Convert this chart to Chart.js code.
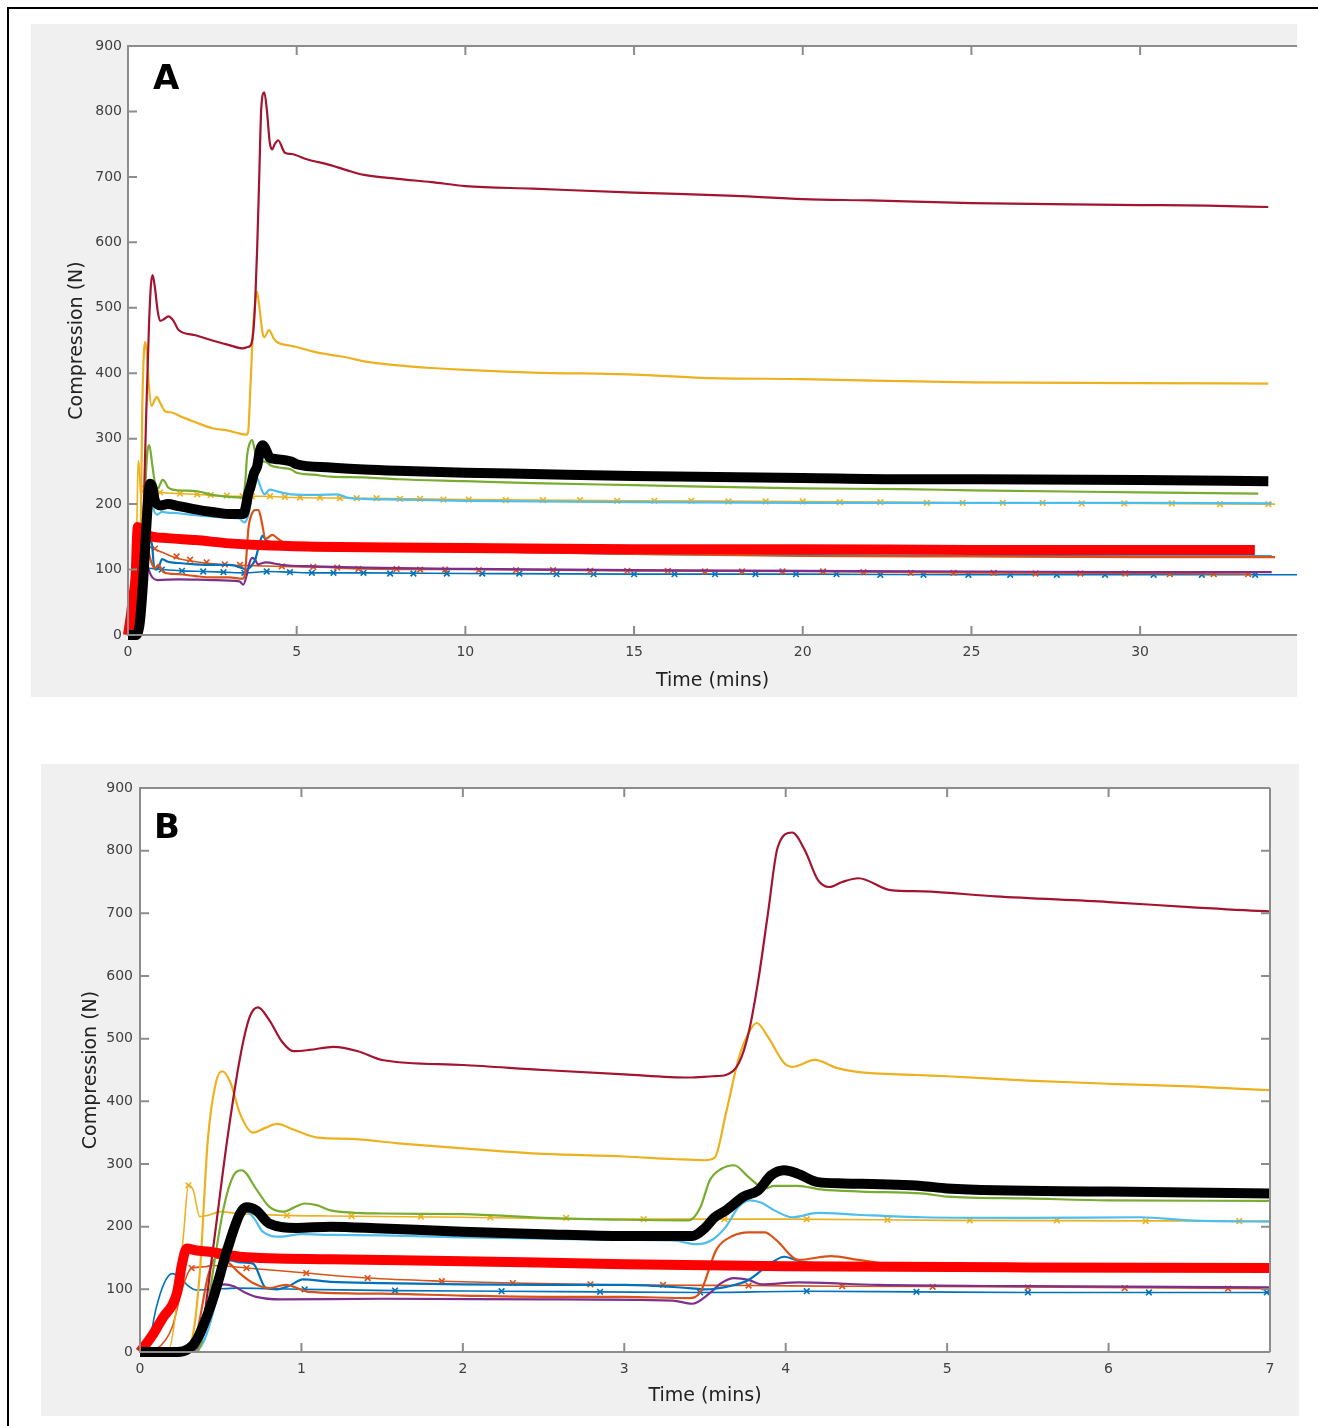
<!DOCTYPE html>
<html>
<head>
<meta charset="utf-8">
<script src="https://cdn.jsdelivr.net/npm/chart.js@4.4.1/dist/chart.umd.min.js"></script>
<style>
    body { margin: 0; background: #ffffff; width: 1318px; height: 1426px; position: relative; overflow: hidden; }
    #frame-top { position: absolute; left: 7px; top: 7px; width: 1311px; height: 2px; background: #000; }
    #frame-left { position: absolute; left: 7px; top: 7px; width: 2px; height: 1419px; background: #000; }
    canvas { position: absolute; background: #f0f0f0; }
    #chart-a { left: 31px; top: 24px; }
    #chart-b { left: 41px; top: 764px; }
</style>
</head>
<body>
<div id="frame-top"></div>
<div id="frame-left"></div>
<canvas id="chart-a" width="1266" height="673"></canvas>
<canvas id="chart-b" width="1258" height="652"></canvas>
<script>
// Compression (N) against time (mins), one array pair per sample
const darkRedTime = [0, 0.3, 0.38, 0.45, 0.54, 0.62, 0.68, 0.73, 0.8, 0.88, 0.95, 1.05, 1.2, 1.35, 1.5, 2.0, 2.5, 3.0, 3.4, 3.55, 3.63, 3.71, 3.77, 3.83, 3.89, 3.95, 4.04, 4.12, 4.2, 4.27, 4.35, 4.45, 4.65, 4.85, 5.3, 6.0, 6.5, 7.0, 8, 9, 10, 12, 15, 18, 20, 22, 25, 28, 30, 32, 33.8];
const darkRedForce = [0, 0, 30, 160, 338, 470, 535, 550, 530, 495, 480, 482, 487, 480, 466, 458, 450, 443, 438, 440, 442, 461, 509, 593, 700, 805, 829, 800, 753, 742, 750, 756, 737, 735, 727, 718, 710, 703, 697, 692, 686, 682, 676, 671, 666, 664, 660, 658, 657, 656, 654];

const orangeTime = [0, 0.2, 0.26, 0.32, 0.37, 0.42, 0.47, 0.51, 0.56, 0.62, 0.7, 0.78, 0.85, 0.95, 1.1, 1.3, 1.6, 2.0, 2.5, 3.0, 3.3, 3.5, 3.56, 3.63, 3.71, 3.77, 3.82, 3.89, 3.99, 4.04, 4.18, 4.32, 4.44, 4.81, 5.0, 5.5, 6.0, 6.5, 7.0, 8, 9, 10, 12, 15, 17, 20, 25, 30, 33.8];
const orangeForce = [0, 0, 3, 19, 125, 338, 430, 448, 430, 380, 350, 358, 364, 355, 342, 340, 333, 325, 316, 312, 308, 306, 310, 381, 470, 509, 525, 503, 461, 455, 466, 453, 447, 442, 440, 433, 428, 424, 418, 412, 408, 405, 401, 398, 393, 391, 386, 385, 384];

const greenTime = [0, 0.35, 0.41, 0.45, 0.52, 0.58, 0.63, 0.72, 0.8, 0.89, 0.95, 1.02, 1.1, 1.18, 1.5, 2.0, 2.5, 3.0, 3.4, 3.47, 3.53, 3.6, 3.68, 3.77, 3.87, 3.93, 4.07, 4.23, 4.47, 4.84, 5.0, 5.5, 6.0, 7.0, 8, 10, 12, 15, 20, 23, 25, 30, 33.5];
const greenForce = [0, 0, 50, 125, 232, 282, 290, 260, 232, 224, 230, 237, 234, 226, 221, 220, 214, 211, 210, 230, 274, 292, 298, 279, 261, 265, 265, 259, 256, 253, 248, 245, 242, 241, 238, 235, 232, 229, 224, 223, 221, 218, 216];

const cyanTime = [0, 0.33, 0.4, 0.48, 0.56, 0.62, 0.66, 0.71, 0.76, 0.87, 1.0, 1.18, 1.5, 2.0, 2.5, 3.0, 3.3, 3.45, 3.55, 3.63, 3.71, 3.78, 3.85, 3.93, 4.04, 4.2, 4.44, 4.84, 5.5, 6.2, 6.5, 7.0, 8, 10, 15, 20, 25, 30, 33.9];
const cyanForce = [0, 0, 20, 90, 180, 218, 224, 212, 192, 184, 188, 187, 186, 183, 181, 179, 178, 172, 180, 200, 232, 242, 238, 226, 215, 222, 219, 215, 214, 215, 210, 208, 207, 205, 203, 202, 202, 202, 201];

const yellowXTime = [0, 0.18, 0.22, 0.27, 0.3, 0.33, 0.37, 0.42, 0.5, 0.6, 0.91, 1.18, 2.0, 3.0, 4.0, 5.0, 7.0, 10, 15, 20, 25, 30, 34.0];
const yellowXForce = [0, 5, 60, 189, 266, 258, 216, 218, 224, 221, 218, 217, 215, 212, 212, 210, 209, 207, 205, 204, 202, 201, 200];

const blackTime = [0, 0.23, 0.3, 0.35, 0.45, 0.54, 0.62, 0.66, 0.72, 0.8, 0.97, 1.18, 1.5, 2.0, 2.5, 3.0, 3.42, 3.5, 3.56, 3.63, 3.74, 3.83, 3.91, 3.99, 4.07, 4.2, 4.36, 4.84, 5.0, 6.0, 7.0, 8, 10, 12, 15, 20, 23, 25, 30, 33.8];
const blackForce = [0, 0, 5, 19, 83, 163, 221, 231, 226, 205, 198, 200, 197, 192, 188, 185, 185, 198, 215, 226, 248, 258, 282, 290, 285, 271, 269, 265, 261, 256, 253, 251, 248, 246, 243, 240, 238, 238, 237, 235];

const redTime = [0, 0.08, 0.145, 0.2, 0.23, 0.26, 0.29, 0.35, 0.43, 0.62, 1.18, 2.0, 3.0, 4.0, 5.5, 7.0, 10, 15, 20, 25, 30, 33.4];
const redForce = [0, 28, 56, 75, 95, 140, 165, 162, 160, 152, 148, 145, 140, 137, 135, 134, 133, 131, 131, 130, 130, 130];

const orangeRedTime = [0, 0.3, 0.36, 0.42, 0.47, 0.55, 0.62, 0.7, 0.8, 0.9, 1.05, 1.5, 2.0, 2.5, 3.0, 3.4, 3.47, 3.57, 3.67, 3.77, 3.87, 3.94, 4.08, 4.28, 4.45, 4.68, 5.0, 6.0, 7.0, 10, 15, 20, 25, 30, 34.0];
const orangeRedForce = [0, 0, 40, 120, 150, 142, 125, 110, 102, 107, 96, 93, 90, 88, 88, 86, 95, 163, 185, 191, 191, 179, 147, 153, 147, 139, 137, 134, 132, 128, 124, 121, 120, 119, 119];

const blueTime = [0, 0.29, 0.4, 0.48, 0.56, 0.62, 0.7, 0.78, 0.85, 0.92, 1.01, 1.18, 1.5, 2.0, 2.5, 3.0, 3.4, 3.5, 3.65, 3.77, 3.91, 3.99, 4.1, 4.4, 5.0, 6.0, 7.0, 10, 15, 20, 25, 30, 33.9];
const blueForce = [0, 0, 30, 100, 146, 143, 141, 102, 100, 105, 116, 112, 110, 108, 107, 107, 102, 100, 105, 115, 142, 152, 144, 141, 138, 134, 132, 128, 124, 122, 121, 120, 120];

const purpleTime = [0, 0.33, 0.41, 0.47, 0.52, 0.58, 0.65, 0.72, 0.87, 1.5, 2.5, 3.3, 3.42, 3.53, 3.6, 3.68, 3.77, 3.85, 4.08, 4.57, 5.5, 7.0, 10, 15, 20, 25, 30, 33.9];
const purpleForce = [0, 0, 40, 95, 108, 105, 95, 88, 84, 85, 84, 82, 77, 94, 110, 118, 115, 108, 111, 107, 105, 103, 101, 99, 98, 97, 96, 96];

const orangeXTime = [0, 0.1, 0.2, 0.26, 0.32, 0.4, 0.45, 0.66, 1.03, 1.41, 1.87, 2.31, 3.0, 3.77, 4.35, 5.5, 7.0, 10, 15, 20, 25, 30, 33.3];
const orangeXForce = [0, 5, 40, 100, 134, 136, 138, 134, 126, 118, 113, 110, 107, 106, 105, 104, 101, 100, 98, 97, 95, 94, 93];

const blueXTime = [0, 0.05, 0.1, 0.15, 0.2, 0.25, 0.3, 0.35, 0.45, 0.6, 1.02, 1.58, 2.24, 2.85, 3.47, 4.13, 4.81, 5.5, 7.0, 10, 15, 20, 25, 30, 34.8];
const blueXForce = [0, 10, 70, 110, 125, 118, 105, 99, 100, 102, 100, 98, 97, 96, 95, 97, 96, 95, 95, 94, 93, 93, 92, 92, 92];

// 'x' marker positions, panel A (full run)
const yellowMarkTimeA = [0.5, 0.95, 1.54, 2.05, 2.45, 2.93, 3.4, 3.67, 4.21, 4.65, 5.1, 5.69, 6.28, 6.78, 7.37, 8.06, 8.66, 9.35, 10.1, 11.2, 12.3, 13.4, 14.5, 15.6, 16.7, 17.8, 18.9, 20.0, 21.1, 22.3, 23.68, 24.74, 25.93, 27.11, 28.27, 29.53, 30.94, 32.37, 33.8];
const yellowMarkForceA = [224, 218, 216, 215, 214, 213, 212, 212, 212, 211, 210, 210, 209, 209, 209, 208, 208, 207, 207, 206, 206, 206, 205, 205, 205, 204, 204, 204, 203, 203, 202, 202, 202, 202, 201, 201, 201, 200, 200];
const orangeMarkTimeA = [0.8, 1.44, 1.84, 2.33, 2.87, 3.32, 4.56, 5.49, 6.2, 6.83, 7.96, 8.66, 9.4, 10.4, 11.5, 12.6, 13.7, 14.8, 16.0, 17.1, 18.2, 19.4, 20.6, 21.8, 23.2, 24.47, 25.66, 26.9, 28.23, 29.56, 30.88, 32.18, 33.2];
const orangeMarkForceA = [132, 120, 115, 111, 108, 107, 105, 104, 103, 101, 101, 100, 100, 99, 99, 99, 98, 98, 98, 97, 97, 97, 97, 96, 95, 95, 95, 94, 94, 94, 93, 93, 93];
const blueMarkTimeA = [1.0, 1.6, 2.23, 2.83, 3.45, 4.11, 4.8, 5.45, 6.09, 6.98, 7.77, 8.46, 9.45, 10.5, 11.6, 12.7, 13.8, 15.0, 16.2, 17.4, 18.6, 19.8, 21.0, 22.3, 23.58, 24.91, 26.15, 27.53, 28.96, 30.4, 31.83, 33.41];
const blueMarkForceA = [100, 98, 97, 96, 95, 97, 96, 95, 95, 95, 94, 94, 94, 94, 94, 93, 93, 93, 93, 93, 93, 93, 93, 92, 92, 92, 92, 92, 92, 92, 92, 92];

// 'x' marker positions, panel B (first 7 minutes)
const yellowMarkTimeB = [0.30, 0.91, 1.31, 1.74, 2.17, 2.64, 3.12, 3.62, 4.13, 4.63, 5.14, 5.68, 6.23, 6.81];
const yellowMarkForceB = [266, 218, 217, 216, 215, 214, 212, 212, 212, 211, 210, 210, 209, 209];
const orangeMarkTimeB = [0.32, 0.66, 1.03, 1.41, 1.87, 2.31, 2.79, 3.24, 3.77, 4.35, 4.91, 5.5, 6.1, 6.74];
const orangeMarkForceB = [134, 134, 126, 118, 113, 110, 108, 107, 106, 105, 104, 103, 102, 101];
const blueMarkTimeB = [1.02, 1.58, 2.24, 2.85, 3.47, 4.13, 4.81, 5.5, 6.25, 6.98];
const blueMarkForceB = [100, 98, 97, 96, 95, 97, 96, 95, 95, 95];

const xTicksA = [0, 5, 10, 15, 20, 25, 30];
const xTicksB = [0, 1, 2, 3, 4, 5, 6, 7];
const yTicks = [0, 100, 200, 300, 400, 500, 600, 700, 800, 900];

const FONT = "'DejaVu Sans', sans-serif";
const AXIS_GREY = '#8c8c8c';

function points(time, force) {
    return time.map((x, i) => ({ x, y: force[i] }));
}

// MATLAB-like box: white plot area, grey frame, inward ticks, panel letter
const matlabAxes = {
    id: 'matlabAxes',
    beforeDatasetsDraw(chart) {
        const { ctx, chartArea: a } = chart;
        ctx.save();
        ctx.fillStyle = '#ffffff';
        ctx.fillRect(a.left, a.top, a.right - a.left, a.bottom - a.top);
        ctx.restore();
    },
    afterDatasetsDraw(chart, args, opts) {
        const { ctx, chartArea: a, scales: { x, y } } = chart;
        const len = 9;
        ctx.save();
        ctx.strokeStyle = AXIS_GREY;
        ctx.lineWidth = 2;
        ctx.beginPath();
        ctx.moveTo(a.right, a.top);
        ctx.lineTo(a.left, a.top);
        ctx.lineTo(a.left, a.bottom);
        ctx.lineTo(a.right, a.bottom);
        if (opts.rightEdge) {
            ctx.moveTo(a.right, a.top);
            ctx.lineTo(a.right, a.bottom);
        }
        for (const t of x.ticks) {
            const px = x.getPixelForValue(t.value);
            ctx.moveTo(px, a.bottom);
            ctx.lineTo(px, a.bottom - len);
            ctx.moveTo(px, a.top);
            ctx.lineTo(px, a.top + len);
        }
        for (const t of y.ticks) {
            const py = y.getPixelForValue(t.value);
            ctx.moveTo(a.left, py);
            ctx.lineTo(a.left + len, py);
            if (opts.rightEdge) {
                ctx.moveTo(a.right, py);
                ctx.lineTo(a.right - len, py);
            }
        }
        ctx.stroke();

        ctx.fillStyle = '#000000';
        ctx.font = 'bold 34px ' + FONT;
        ctx.textBaseline = 'alphabetic';
        ctx.fillText(opts.letter, a.left + opts.letterX, a.top + opts.letterY);
        ctx.restore();
    }
};

function lineSet(time, force, color, width, order) {
    return {
        data: points(time, force),
        borderColor: color,
        borderWidth: width,
        pointRadius: 0,
        cubicInterpolationMode: 'monotone',
        fill: false,
        order: order,
        clip: { left: 6, top: 0, right: 0, bottom: 6 }
    };
}

function markerSet(time, force, color, order) {
    return {
        data: points(time, force),
        showLine: false,
        pointStyle: 'crossRot',
        pointRadius: 4,
        pointBorderWidth: 1.6,
        borderColor: color,
        pointBorderColor: color,
        order: order,
        clip: { left: 6, top: 0, right: 0, bottom: 6 }
    };
}

function buildPanel(canvasId, panel) {
    const datasets = [
        lineSet(blackTime, blackForce, '#000000', panel.thick, 0),
        lineSet(redTime, redForce, '#ff0000', panel.thick, 1),
        lineSet(darkRedTime, darkRedForce, '#a2142f', 2.2, 2),
        lineSet(orangeTime, orangeForce, '#edb120', 2.2, 3),
        lineSet(greenTime, greenForce, '#77ac30', 2.2, 4),
        lineSet(cyanTime, cyanForce, '#4dbeee', 2.2, 5),
        lineSet(orangeRedTime, orangeRedForce, '#d95319', 2.2, 6),
        lineSet(blueTime, blueForce, '#0072bd', 2.2, 7),
        lineSet(purpleTime, purpleForce, '#7e2f8e', 2.2, 8),
        lineSet(yellowXTime, yellowXForce, '#edb120', 1.6, 9),
        lineSet(orangeXTime, orangeXForce, '#d95319', 1.6, 10),
        lineSet(blueXTime, blueXForce, '#0072bd', 1.6, 11),
        markerSet(panel.yellowMarks[0], panel.yellowMarks[1], '#edb120', 9),
        markerSet(panel.orangeMarks[0], panel.orangeMarks[1], '#d95319', 10),
        markerSet(panel.blueMarks[0], panel.blueMarks[1], '#0072bd', 11)
    ];

    return new Chart(document.getElementById(canvasId), {
        type: 'line',
        data: { datasets },
        plugins: [matlabAxes],
        options: {
            responsive: false,
            animation: false,
            devicePixelRatio: 1,
            events: [],
            layout: {
                autoPadding: false,
                padding: { top: panel.padTop, right: panel.padRight, left: 0, bottom: 0 }
            },
            plugins: {
                legend: { display: false },
                tooltip: { enabled: false },
                matlabAxes: { letter: panel.letter, letterX: panel.letterX, letterY: panel.letterY, rightEdge: panel.rightEdge }
            },
            scales: {
                x: {
                    type: 'linear',
                    min: 0,
                    max: panel.xMax,
                    grid: { display: false, drawTicks: false },
                    border: { display: false },
                    ticks: { font: { family: FONT, size: 14 }, color: '#404040', padding: 9, maxRotation: 0, autoSkip: false },
                    afterBuildTicks: s => { s.ticks = panel.xTicks.map(value => ({ value })); },
                    afterFit: s => {
                        s.height = panel.xHeight;
                        s.paddingLeft = 0;
                        s.paddingRight = 0;
                    },
                    title: { display: true, text: 'Time (mins)', color: '#222222', font: { family: FONT, size: 19 }, padding: { top: 0, bottom: panel.xTitlePad } }
                },
                y: {
                    type: 'linear',
                    min: 0,
                    max: 900,
                    grid: { display: false, drawTicks: false },
                    border: { display: false },
                    ticks: { font: { family: FONT, size: 14 }, color: '#404040', padding: panel.yTickPad },
                    afterBuildTicks: s => { s.ticks = yTicks.map(value => ({ value })); },
                    afterFit: s => {
                        s.width = panel.yWidth;
                        s.paddingTop = 0;
                        s.paddingBottom = 0;
                    },
                    title: { display: true, text: 'Compression (N)', color: '#222222', font: { family: FONT, size: 19 }, padding: { top: panel.yTitlePad, bottom: 0 } }
                }
            }
        }
    });
}

buildPanel('chart-a', {
    letter: 'A', letterX: 25, letterY: 43, rightEdge: false,
    xMax: 34.65, xTicks: xTicksA, thick: 10,
    padTop: 22, padRight: 0, yWidth: 97, xHeight: 62,
    yTickPad: 6, xTitlePad: 5, yTitlePad: 35,
    yellowMarks: [yellowMarkTimeA, yellowMarkForceA],
    orangeMarks: [orangeMarkTimeA, orangeMarkForceA],
    blueMarks: [blueMarkTimeA, blueMarkForceA]
});

buildPanel('chart-b', {
    letter: 'B', letterX: 14, letterY: 50, rightEdge: true,
    xMax: 7, xTicks: xTicksB, thick: 10,
    padTop: 24, padRight: 29, yWidth: 99, xHeight: 64,
    yTickPad: 7, xTitlePad: 9, yTitlePad: 39,
    yellowMarks: [yellowMarkTimeB, yellowMarkForceB],
    orangeMarks: [orangeMarkTimeB, orangeMarkForceB],
    blueMarks: [blueMarkTimeB, blueMarkForceB]
});
</script>
</body>
</html>
